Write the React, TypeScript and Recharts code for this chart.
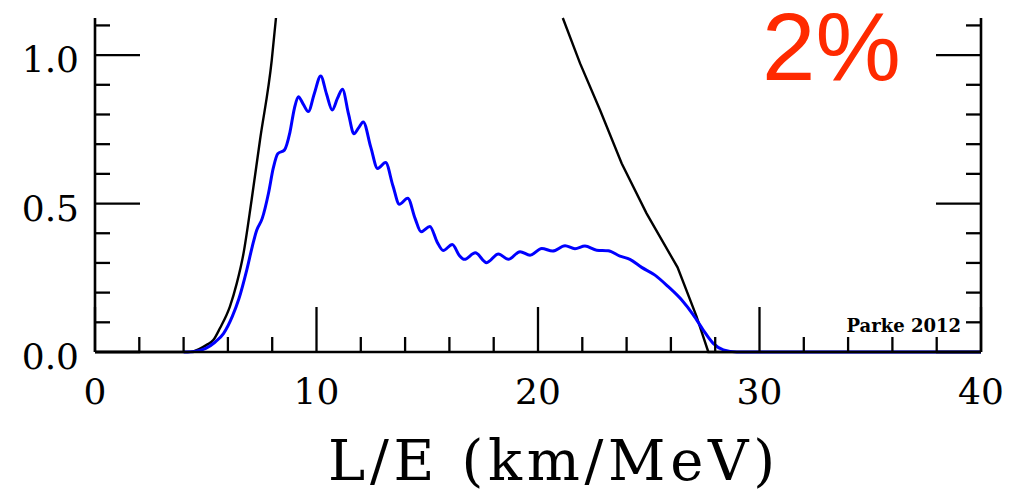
import { LineChart, Line, XAxis, YAxis, Customized } from "recharts";

// blue: oscillated spectrum
const blueLE = [
  4.0, 4.5, 5.0, 5.4, 5.8, 6.2, 6.5, 6.85, 7.1, 7.3, 7.55, 7.83, 8.05, 8.25, 8.55,
  8.8, 9.0, 9.18, 9.4, 9.63, 9.9, 10.19, 10.45, 10.71, 10.95, 11.17, 11.45, 11.69,
  11.9, 12.11, 12.45, 12.76, 13.12, 13.45, 13.74, 14.12, 14.45, 14.72, 15.12, 15.45,
  15.72, 16.13, 16.45, 16.68, 17.17, 17.68, 18.21, 18.66, 19.19, 19.64, 20.17, 20.66,
  21.22, 21.67, 22.12, 22.65, 23.17, 23.7, 24.15, 24.68, 25.28, 25.88, 26.49, 27.01,
  27.46, 27.91, 28.37, 28.97, 40,
];
const blueP = [
  0, 0.002, 0.012, 0.032, 0.062, 0.12, 0.18, 0.276, 0.355, 0.41, 0.45, 0.534, 0.62,
  0.668, 0.68, 0.74, 0.82, 0.86, 0.835, 0.81, 0.87, 0.93, 0.87, 0.815, 0.855, 0.885,
  0.8, 0.735, 0.755, 0.775, 0.69, 0.618, 0.638, 0.56, 0.498, 0.518, 0.45, 0.405, 0.423,
  0.37, 0.342, 0.362, 0.325, 0.312, 0.334, 0.301, 0.33, 0.312, 0.338, 0.326, 0.349,
  0.34, 0.358, 0.348, 0.357, 0.343, 0.341, 0.323, 0.312, 0.285, 0.259, 0.22, 0.175,
  0.125, 0.074, 0.029, 0.007, 0, 0,
];

// black: no-oscillation curve, rising edge and falling edge (both leave the frame at the top)
const blackRiseLE = [0, 4.2, 4.44, 5.04, 5.34, 5.64, 6.09, 6.4, 6.7, 7.07, 7.45, 7.98, 8.17];
const blackRiseP = [0, 0, 0.002, 0.024, 0.04, 0.08, 0.153, 0.231, 0.33, 0.512, 0.714, 0.983, 1.125];
const blackFallLE = [21.12, 21.9, 22.8, 23.78, 24.9, 26.3, 27.16, 27.69, 40];
const blackFallP = [1.125, 0.972, 0.815, 0.635, 0.467, 0.285, 0.119, 0, 0];

const xTicks = [0, 2, 4, 6, 8, 10, 12, 14, 16, 18, 20, 22, 24, 26, 28, 30, 32, 34, 36, 38, 40];
const xMajor = [0, 10, 20, 30, 40];
const yTicks = [0, 0.1, 0.2, 0.3, 0.4, 0.5, 0.6, 0.7, 0.8, 0.9, 1.0, 1.1];
const yMajor = [0, 0.5, 1.0];
const yLabels = ["0.0", "0.5", "1.0"];

const blueData = blueLE.map((x, i) => ({ x, y: blueP[i] }));
const riseData = blackRiseLE.map((x, i) => ({ x, y: blackRiseP[i] }));
const fallData = blackFallLE.map((x, i) => ({ x, y: blackFallP[i] }));

const W = 1010;
const H = 497;
const LEFT_W = 95;
const RIGHT_W = 29;
const PLOT_W = W - LEFT_W - RIGHT_W;

const SERIF = '"DejaVu Serif", serif';
const MAJOR = 45;
const MINOR = 15;

function XTick(props: any) {
  const { x, y, payload } = props;
  const major = xMajor.includes(payload.value);
  return (
    <g>
      <line x1={x} y1={y} x2={x} y2={y - (major ? MAJOR : MINOR)} stroke="#000" strokeWidth={2.3} />
      {major && (
        <text x={x} y={y + 52} textAnchor="middle" fontFamily={SERIF} fontSize={36} fill="#000">
          {payload.value}
        </text>
      )}
    </g>
  );
}

// left ticks, plus the mirrored ticks on the right frame edge
function LeftTick(props: any) {
  const { x, y, payload } = props;
  const idx = yMajor.findIndex((m) => Math.abs(m - payload.value) < 1e-6);
  const len = idx >= 0 ? MAJOR : MINOR;
  const xr = x + PLOT_W;
  return (
    <g>
      <line x1={x} y1={y} x2={x + len} y2={y} stroke="#000" strokeWidth={2.3} />
      <line x1={xr} y1={y} x2={xr - len} y2={y} stroke="#000" strokeWidth={2.3} />
      {idx >= 0 && (
        <text x={x - 16} y={y + 17} textAnchor="end" fontFamily={SERIF} fontSize={36} fill="#000">
          {yLabels[idx]}
        </text>
      )}
    </g>
  );
}

function Notes() {
  return (
    <g>
      <text x={762} y={80} fontFamily='"Liberation Sans", Arial, sans-serif' fontSize={96} fill="#ff2a00">
        2%
      </text>
      <text x={961} y={332} textAnchor="end" fontFamily={SERIF} fontWeight="bold" fontSize={18} fill="#000">
        Parke 2012
      </text>
      <text
        x={328}
        y={480}
        fontFamily={SERIF}
        fontSize={56}
        fill="#000"
        textLength={447}
        lengthAdjust="spacing"
      >
        L/E (km/MeV)
      </text>
    </g>
  );
}

export default function App() {
  return (
    <div style={{ position: "absolute", left: 0, top: 0, width: W, height: H, background: "#fff" }}>
      <LineChart width={W} height={H} margin={{ top: 18, right: 0, bottom: 45, left: 0 }}>
        <XAxis
          dataKey="x"
          type="number"
          domain={[0, 40]}
          ticks={xTicks}
          interval={0}
          height={100}
          tickSize={0}
          tickMargin={0}
          tick={<XTick />}
          axisLine={{ stroke: "#000", strokeWidth: 2.6 }}
        />
        <YAxis
          yAxisId="l"
          type="number"
          domain={[0, 1.125]}
          ticks={yTicks}
          interval={0}
          width={LEFT_W}
          tickSize={0}
          tickMargin={0}
          tick={<LeftTick />}
          axisLine={{ stroke: "#000", strokeWidth: 2.6 }}
        />
        <YAxis
          yAxisId="r"
          orientation="right"
          type="number"
          domain={[0, 1.125]}
          width={RIGHT_W}
          tick={false}
          tickLine={false}
          axisLine={{ stroke: "#000", strokeWidth: 2.6 }}
        />
        <Line
          yAxisId="l"
          data={riseData}
          dataKey="y"
          type="monotone"
          stroke="#000"
          strokeWidth={2.4}
          dot={false}
          isAnimationActive={false}
        />
        <Line
          yAxisId="l"
          data={fallData}
          dataKey="y"
          type="linear"
          stroke="#000"
          strokeWidth={2.4}
          dot={false}
          isAnimationActive={false}
        />
        <Line
          yAxisId="l"
          data={blueData}
          dataKey="y"
          type="monotone"
          stroke="#0000ff"
          strokeWidth={3}
          dot={false}
          isAnimationActive={false}
        />
        <Customized component={Notes} />
      </LineChart>
    </div>
  );
}
